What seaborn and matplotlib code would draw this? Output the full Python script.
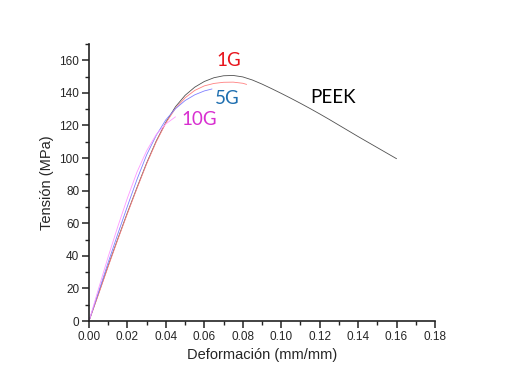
import numpy as np
import pandas as pd
import matplotlib
matplotlib.use("Agg")
import matplotlib.pyplot as plt
import seaborn as sns
from matplotlib.ticker import MultipleLocator

# ---- data ----
peek_x = [0, .005, .01, .015, .02, .025, .03, .035, .04, .045, .05, .055, .06, .065, .07, .075,
          .08, .085, .09, .095, .10, .105, .11, .115, .12, .125, .13, .135, .14, .145, .15, .155, .16]
peek_y = [0, 17, 34, 50.5, 66.5, 82, 97, 110.5, 122, 131.5, 138.5, 143.5, 147, 149.3, 150.5, 150.7,
          149.8, 147.9, 145.4, 142.6, 139.7, 136.7, 133.6, 130.4, 127.1, 123.7, 120.2, 116.7, 113.2, 109.8, 106.4, 103, 99.6]

g1_x = [0, .005, .01, .015, .02, .025, .03, .035, .04, .045, .05, .055, .06, .065, .07, .075, .08, .082]
g1_y = [0, 16.5, 33.5, 50, 66, 81.5, 96.5, 110, 121.5, 130.5, 137, 141.5, 144.3, 145.8, 146.5, 146.6, 145.9, 145.2]

g5_x = [0, .005, .01, .015, .02, .025, .03, .035, .04, .045, .05, .055, .06, .064]
g5_y = [0, 18, 36, 53.5, 70.5, 87, 102, 114, 123.5, 130.3, 135.3, 138.8, 141.2, 142.4]

g10_x = [0, .005, .01, .015, .02, .025, .03, .035, .04, .045]
g10_y = [0, 20, 39.5, 58, 75.5, 91.5, 104.5, 114.5, 121, 125.3]

series = ["PEEK", "1G", "5G", "10G"]
line_colors = ["#505050", "#ff8080", "#8080ff", "#ff99ff"]
label_colors = ["#000000", "#e8141c", "#1f6fb0", "#d82fd0"]

df = pd.concat([
    pd.DataFrame({"x": peek_x, "y": peek_y, "s": "PEEK"}),
    pd.DataFrame({"x": g1_x, "y": g1_y, "s": "1G"}),
    pd.DataFrame({"x": g5_x, "y": g5_y, "s": "5G"}),
    pd.DataFrame({"x": g10_x, "y": g10_y, "s": "10G"}),
], ignore_index=True)

sns.set_style("ticks")
plt.rcParams["font.family"] = ["Liberation Sans", "DejaVu Sans"]

fig = plt.figure(figsize=(5.10, 3.89), dpi=100)
ax = fig.add_axes([89/510, 1-321/389, (435-89)/510, (321-44)/389])

sns.lineplot(data=df, x="x", y="y", hue="s", hue_order=series,
             palette=dict(zip(series, line_colors)), sort=False,
             estimator=None, linewidth=0.6, legend=False, ax=ax)

ax.set_xlim(0, 0.18)
ax.set_ylim(0, 170)
ax.xaxis.set_major_locator(MultipleLocator(0.02))
ax.xaxis.set_minor_locator(MultipleLocator(0.01))
ax.yaxis.set_major_locator(MultipleLocator(20))
ax.yaxis.set_minor_locator(MultipleLocator(10))
ax.set_xticklabels([f"{v:.2f}" for v in ax.get_xticks()])
ax.tick_params(which="major", length=5, width=1.1, labelsize=8.5, color="#222222", pad=2)
ax.tick_params(which="minor", length=3, width=1.0, color="#222222")
for s in ["left", "bottom"]:
    ax.spines[s].set_linewidth(1.2)
    ax.spines[s].set_color("#222222")
sns.despine(ax=ax)
ax.set_xlabel("Deformación (mm/mm)", fontsize=10.5, labelpad=4)
ax.set_ylabel("Tensión (MPa)", fontsize=10.5, labelpad=4)

# series labels
lab_pos = {"1G": (0.0725, 160), "5G": (0.0718, 136.5), "10G": (0.0576, 123.5), "PEEK": (0.1268, 137)}
for s, c in zip(series, label_colors):
    x, y = lab_pos[s]
    ax.text(x, y, s, color=c, fontsize=13.5, ha="center", va="center",
            family=["Lato", "DejaVu Sans"])

fig.savefig("out.png", dpi=100)
